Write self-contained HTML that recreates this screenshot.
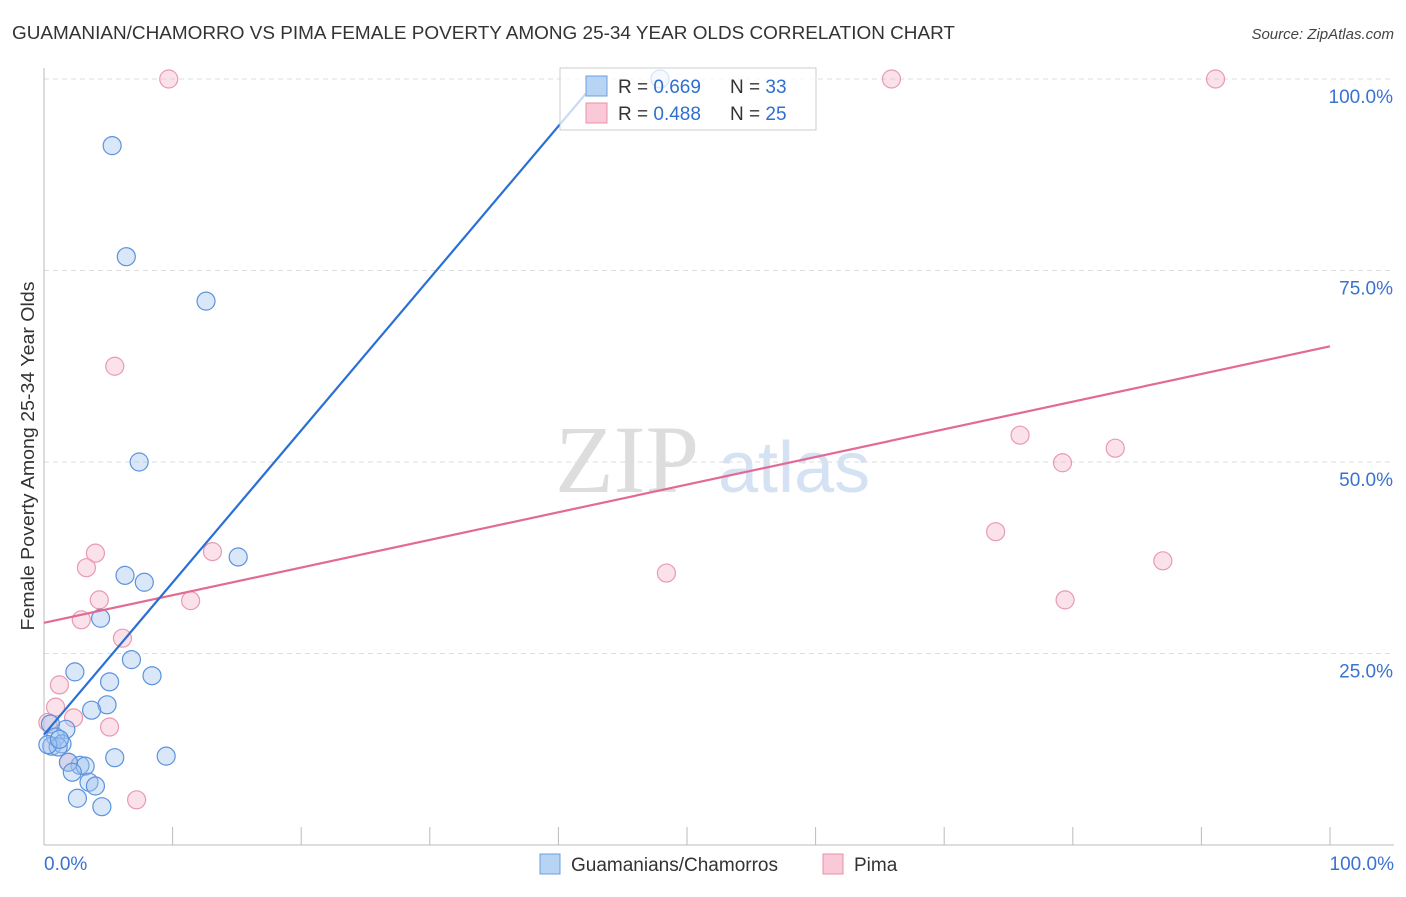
<!DOCTYPE html>
<html><head><meta charset="utf-8"><style>
body{margin:0;background:#fff;font-family:"Liberation Sans",sans-serif;}
</style></head><body>
<svg id="chart" width="1406" height="892" xmlns="http://www.w3.org/2000/svg" style="font-family:'Liberation Sans',sans-serif">
<text x="12" y="39" font-size="18" fill="#333" textLength="943" lengthAdjust="spacingAndGlyphs">GUAMANIAN/CHAMORRO VS PIMA FEMALE POVERTY AMONG 25-34 YEAR OLDS CORRELATION CHART</text>
<text x="1394" y="39" font-size="15" fill="#444" text-anchor="end" font-style="italic">Source: ZipAtlas.com</text>
<text transform="translate(34,456) rotate(-90)" font-size="18" fill="#333" text-anchor="middle" textLength="349" lengthAdjust="spacingAndGlyphs">Female Poverty Among 25-34 Year Olds</text>
<g>
<text x="555" y="492" font-size="96" fill="#ddd" font-family="Liberation Serif">ZIP</text>
<text x="718" y="492" font-size="72" fill="#d4e2f4">atlas</text>
</g>
<g id="grid"></g><g id="series"></g>
<g>
<rect x="560" y="68" width="256" height="62" fill="#fff" fill-opacity="0.75" stroke="#ccc"/>
<rect x="586" y="76" width="21" height="20" fill="#b8d4f5" stroke="#6a9fe0"/>
<rect x="586" y="103" width="21" height="20" fill="#f9c9d7" stroke="#e890ab"/>
<text x="618" y="93" font-size="19" fill="#333">R = <tspan fill="#2e6fd1">0.669</tspan></text>
<text x="730" y="93" font-size="19" fill="#333">N = <tspan fill="#2e6fd1">33</tspan></text>
<text x="618" y="120" font-size="19" fill="#333">R = <tspan fill="#2e6fd1">0.488</tspan></text>
<text x="730" y="120" font-size="19" fill="#333">N = <tspan fill="#2e6fd1">25</tspan></text>
</g>
<g>
<rect x="540" y="854" width="20" height="20" fill="#b8d4f5" stroke="#6a9fe0"/>
<text x="571" y="871" font-size="19" fill="#333">Guamanians/Chamorros</text>
<rect x="823" y="854" width="20" height="20" fill="#f9c9d7" stroke="#e890ab"/>
<text x="854" y="871" font-size="19" fill="#333">Pima</text>
</g>
</svg>
<script>
const yTicks=[25,50,75,100];
const yTickLabels=["25.0%","50.0%","75.0%","100.0%"];
const blueX=[5.3,6.4,12.6,7.4,15.1,6.3,7.8,4.4,6.8,2.4,8.4,5.1,4.9,3.7,1.7,0.5,0.9,0.6,1.4,1.1,0.3,5.5,9.5,2.8,3.2,1.9,2.2,3.5,4.0,2.6,4.5,47.9,1.2];
const blueY=[91.3,76.8,71.0,50.0,37.6,35.2,34.3,29.6,24.2,22.6,22.1,21.3,18.3,17.6,15.1,15.8,14.1,12.9,13.2,12.8,13.1,11.4,11.6,10.4,10.3,10.8,9.5,8.2,7.7,6.1,5.0,100,13.8];
const pinkX=[9.7,65.9,91.1,5.5,75.9,83.3,79.2,74.0,87.0,48.4,79.4,13.1,4.0,3.3,4.3,11.4,2.9,6.1,1.2,0.9,2.3,5.1,1.9,7.2,0.3];
const pinkY=[100,100,100,62.5,53.5,51.8,49.9,40.9,37.1,35.5,32.0,38.3,38.1,36.2,32.0,31.9,29.4,27.0,20.9,18.0,16.6,15.4,10.8,5.9,16.0];
const blueLine=[[0,14.4],[43.1,100]];
const pinkLine=[[0,29.0],[100,65.1]];
const NS="http://www.w3.org/2000/svg";
const X=v=>44+v*12.86, Y=v=>845-v*7.66;
const g=document.getElementById('grid'), s=document.getElementById('series');
function mk(tag,at,par){const e=document.createElementNS(NS,tag);for(const k in at)e.setAttribute(k,at[k]);par.appendChild(e);return e;}
yTicks.forEach((t,i)=>{
 const l=mk('line',{x1:44,x2:1394,y1:Y(t),y2:Y(t),stroke:'#ddd','stroke-dasharray':'5,4'},g);
 
 
 const tx=mk('text',{x:1393,y:Y(t)+24,'font-size':19,fill:'#3a72d0','text-anchor':'end'},g);tx.textContent=yTickLabels[i];
 
 
});
const ax=mk('line',{x1:44,x2:44,y1:68,y2:845,stroke:'#bbb'},g);


const bx=mk('line',{x1:44,x2:1394,y1:845,y2:845,stroke:'#bbb'},g);


for(let i=1;i<=10;i++){const tk=mk('line',{x1:X(i*10),x2:X(i*10),y1:827,y2:845,stroke:'#bbb'},g);
 
 }
const x0=mk('text',{x:44,y:870,'font-size':19,fill:'#3a72d0'},g);x0.textContent='0.0%';


const x1=mk('text',{x:1394,y:870,'font-size':19,fill:'#3a72d0','text-anchor':'end'},g);x1.textContent='100.0%';


pinkX.forEach((v,i)=>{const c=mk('circle',{cx:X(v),cy:Y(pinkY[i]),r:9,fill:'rgba(246,180,200,0.4)',stroke:'#e89ab2','stroke-width':1.2},s);
 
 });
blueX.forEach((v,i)=>{const c=mk('circle',{cx:X(v),cy:Y(blueY[i]),r:9,fill:'rgba(160,195,240,0.4)',stroke:'#5b93dc','stroke-width':1.2},s);
 
 });
const pl=mk('line',{x1:X(pinkLine[0][0]),y1:Y(pinkLine[0][1]),x2:X(pinkLine[1][0]),y2:Y(pinkLine[1][1]),stroke:'#e36a95','stroke-width':2.2},s);


const bl=mk('line',{x1:X(blueLine[0][0]),y1:Y(blueLine[0][1]),x2:X(blueLine[1][0]),y2:Y(blueLine[1][1]),stroke:'#2a6fd6','stroke-width':2.2},s);


</script>
</body></html>
